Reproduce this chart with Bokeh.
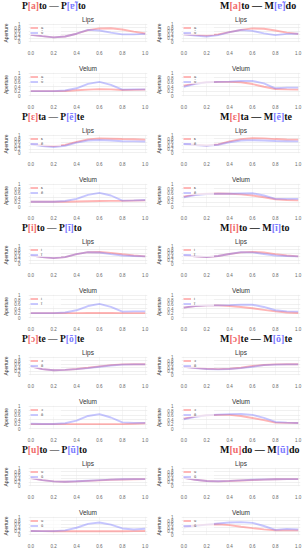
from bokeh.plotting import figure
from bokeh.layouts import column, row
from bokeh.models import Div, FixedTicker, NumeralTickFormatter, Range1d, Legend, LegendItem
from bokeh.embed import file_html
from bokeh.resources import INLINE

# normalised time
X = [0.0, 0.1, 0.2, 0.3, 0.4, 0.5, 0.6, 0.7, 0.8, 0.9, 1.0]

# symbols
ORAL = ["a", "ɛ", "i", "ɔ", "u"]
NASAL = ["ɐ̃", "ẽ", "ĩ", "õ", "ũ"]
LEFT_WORDS = [("P", "to", "P", "to"), ("P", "ta", "P", "te"), ("P", "to", "P", "to"),
              ("P", "te", "P", "te"), ("P", "to", "P", "to")]
RIGHT_WORDS = [("M", "to", "M", "do"), ("M", "ta", "M", "te"), ("M", "to", "M", "to"),
               ("M", "te", "M", "te"), ("M", "do", "M", "do")]

# ---- left column (P words) ----
P_A_LIPS_ORAL = [0.40, 0.32, 0.25, 0.30, 0.46, 0.66, 0.76, 0.77, 0.70, 0.58, 0.47]
P_A_LIPS_NASAL = [0.40, 0.32, 0.25, 0.30, 0.46, 0.68, 0.64, 0.52, 0.42, 0.42, 0.45]
P_A_VEL_ORAL = [0.20, 0.20, 0.20, 0.21, 0.24, 0.27, 0.29, 0.28, 0.25, 0.26, 0.27]
P_A_VEL_NASAL = [0.20, 0.20, 0.20, 0.23, 0.33, 0.53, 0.62, 0.48, 0.27, 0.28, 0.28]

P_E_LIPS_ORAL = [0.50, 0.43, 0.38, 0.45, 0.62, 0.76, 0.82, 0.80, 0.78, 0.77, 0.75]
P_E_LIPS_NASAL = [0.48, 0.38, 0.32, 0.40, 0.58, 0.70, 0.73, 0.70, 0.66, 0.65, 0.64]
P_E_VEL_ORAL = [0.22, 0.22, 0.22, 0.22, 0.23, 0.24, 0.25, 0.26, 0.26, 0.27, 0.28]
P_E_VEL_NASAL = [0.22, 0.22, 0.22, 0.25, 0.35, 0.53, 0.62, 0.50, 0.27, 0.28, 0.30]

P_I_LIPS_ORAL = [0.48, 0.38, 0.32, 0.38, 0.55, 0.66, 0.67, 0.62, 0.54, 0.47, 0.42]
P_I_LIPS_NASAL = [0.48, 0.38, 0.32, 0.38, 0.55, 0.66, 0.64, 0.55, 0.47, 0.44, 0.42]
P_I_VEL_ORAL = [0.20, 0.20, 0.20, 0.20, 0.20, 0.21, 0.21, 0.21, 0.20, 0.20, 0.20]
P_I_VEL_NASAL = [0.20, 0.20, 0.20, 0.23, 0.33, 0.52, 0.62, 0.48, 0.27, 0.28, 0.28]

P_O_LIPS_ORAL = [0.48, 0.32, 0.26, 0.28, 0.33, 0.40, 0.48, 0.55, 0.59, 0.60, 0.60]
P_O_LIPS_NASAL = [0.48, 0.32, 0.26, 0.28, 0.32, 0.38, 0.46, 0.53, 0.58, 0.59, 0.59]
P_O_VEL_ORAL = [0.20, 0.20, 0.20, 0.20, 0.20, 0.20, 0.20, 0.20, 0.20, 0.22, 0.24]
P_O_VEL_NASAL = [0.22, 0.21, 0.21, 0.24, 0.36, 0.57, 0.65, 0.50, 0.28, 0.26, 0.26]

P_U_LIPS_ORAL = [0.44, 0.32, 0.25, 0.23, 0.25, 0.28, 0.31, 0.34, 0.36, 0.37, 0.38]
P_U_LIPS_NASAL = [0.44, 0.32, 0.25, 0.23, 0.26, 0.29, 0.32, 0.35, 0.37, 0.38, 0.38]
P_U_VEL_ORAL = [0.22, 0.21, 0.20, 0.20, 0.20, 0.20, 0.20, 0.20, 0.20, 0.21, 0.22]
P_U_VEL_NASAL = [0.22, 0.21, 0.21, 0.25, 0.40, 0.62, 0.70, 0.58, 0.36, 0.30, 0.34]

# ---- right column (M words) ----
M_A_LIPS_ORAL = [0.43, 0.40, 0.36, 0.42, 0.55, 0.68, 0.76, 0.74, 0.64, 0.52, 0.45]
M_A_LIPS_NASAL = [0.43, 0.35, 0.30, 0.38, 0.55, 0.67, 0.62, 0.48, 0.38, 0.45, 0.46]
M_A_VEL_ORAL = [0.45, 0.55, 0.60, 0.62, 0.62, 0.60, 0.52, 0.40, 0.30, 0.28, 0.27]
M_A_VEL_NASAL = [0.40, 0.53, 0.60, 0.62, 0.63, 0.66, 0.66, 0.55, 0.33, 0.36, 0.36]

M_E_LIPS_ORAL = [0.50, 0.46, 0.42, 0.48, 0.65, 0.78, 0.83, 0.82, 0.78, 0.76, 0.75]
M_E_LIPS_NASAL = [0.50, 0.44, 0.40, 0.46, 0.60, 0.70, 0.72, 0.70, 0.67, 0.66, 0.65]
M_E_VEL_ORAL = [0.45, 0.55, 0.58, 0.59, 0.58, 0.55, 0.50, 0.42, 0.33, 0.30, 0.28]
M_E_VEL_NASAL = [0.42, 0.52, 0.57, 0.58, 0.58, 0.59, 0.60, 0.50, 0.35, 0.35, 0.35]

M_I_LIPS_ORAL = [0.48, 0.43, 0.38, 0.44, 0.56, 0.65, 0.68, 0.64, 0.55, 0.47, 0.42]
M_I_LIPS_NASAL = [0.48, 0.43, 0.38, 0.44, 0.56, 0.66, 0.65, 0.56, 0.47, 0.44, 0.42]
M_I_VEL_ORAL = [0.45, 0.52, 0.55, 0.55, 0.52, 0.48, 0.42, 0.35, 0.28, 0.23, 0.21]
M_I_VEL_NASAL = [0.45, 0.52, 0.55, 0.55, 0.56, 0.58, 0.58, 0.48, 0.33, 0.28, 0.27]

M_O_LIPS_ORAL = [0.45, 0.40, 0.34, 0.32, 0.34, 0.40, 0.50, 0.56, 0.59, 0.60, 0.60]
M_O_LIPS_NASAL = [0.45, 0.38, 0.33, 0.31, 0.33, 0.38, 0.46, 0.55, 0.58, 0.59, 0.59]
M_O_VEL_ORAL = [0.45, 0.55, 0.60, 0.62, 0.62, 0.57, 0.48, 0.38, 0.27, 0.26, 0.25]
M_O_VEL_NASAL = [0.42, 0.53, 0.60, 0.63, 0.65, 0.66, 0.62, 0.48, 0.30, 0.27, 0.25]

M_U_LIPS_ORAL = [0.45, 0.34, 0.27, 0.25, 0.27, 0.30, 0.33, 0.35, 0.37, 0.38, 0.38]
M_U_LIPS_NASAL = [0.45, 0.34, 0.27, 0.26, 0.28, 0.31, 0.34, 0.36, 0.37, 0.38, 0.38]
M_U_VEL_ORAL = [0.45, 0.53, 0.58, 0.60, 0.55, 0.46, 0.38, 0.31, 0.26, 0.25, 0.25]
M_U_VEL_NASAL = [0.42, 0.50, 0.58, 0.64, 0.70, 0.72, 0.68, 0.50, 0.28, 0.33, 0.30]

LEFT_DATA = [
    (P_A_LIPS_ORAL, P_A_LIPS_NASAL, P_A_VEL_ORAL, P_A_VEL_NASAL),
    (P_E_LIPS_ORAL, P_E_LIPS_NASAL, P_E_VEL_ORAL, P_E_VEL_NASAL),
    (P_I_LIPS_ORAL, P_I_LIPS_NASAL, P_I_VEL_ORAL, P_I_VEL_NASAL),
    (P_O_LIPS_ORAL, P_O_LIPS_NASAL, P_O_VEL_ORAL, P_O_VEL_NASAL),
    (P_U_LIPS_ORAL, P_U_LIPS_NASAL, P_U_VEL_ORAL, P_U_VEL_NASAL),
]
RIGHT_DATA = [
    (M_A_LIPS_ORAL, M_A_LIPS_NASAL, M_A_VEL_ORAL, M_A_VEL_NASAL),
    (M_E_LIPS_ORAL, M_E_LIPS_NASAL, M_E_VEL_ORAL, M_E_VEL_NASAL),
    (M_I_LIPS_ORAL, M_I_LIPS_NASAL, M_I_VEL_ORAL, M_I_VEL_NASAL),
    (M_O_LIPS_ORAL, M_O_LIPS_NASAL, M_O_VEL_ORAL, M_O_VEL_NASAL),
    (M_U_LIPS_ORAL, M_U_LIPS_NASAL, M_U_VEL_ORAL, M_U_VEL_NASAL),
]

RED = "#ff5a5a"
BLUE = "#7070ff"
FONT = "Liberation Sans"


def panel(name, oral, nasal, osym, nsym, width, left, right, height, top, bottom):
    p = figure(width=width, height=height, x_range=Range1d(-0.02, 1.02), y_range=Range1d(-0.04, 1.04),
               output_backend="svg", toolbar_location=None, title=name,
               min_border_left=left, min_border_right=right, min_border_top=top, min_border_bottom=bottom,
               margin=0)
    p.outline_line_color = None
    p.background_fill_color = "white"
    p.title.align = "center"
    p.title.text_font = FONT
    p.title.text_font_size = "6.5px"
    p.title.text_font_style = "normal"
    p.title.text_color = "#333333"
    p.title.standoff = 1
    p.title.offset = 0
    for ax in (p.xaxis[0], p.yaxis[0]):
        ax.axis_line_color = None
        ax.major_tick_line_color = None
        ax.minor_tick_line_color = None
        ax.major_label_text_font = FONT
        ax.major_label_text_font_size = "4.5px"
        ax.major_label_text_color = "#666666"
        ax.major_label_standoff = 2
    p.xaxis.ticker = FixedTicker(ticks=[0, 0.2, 0.4, 0.6, 0.8, 1.0])
    p.xaxis.formatter = NumeralTickFormatter(format="0.0")
    p.yaxis.ticker = FixedTicker(ticks=[0, 0.2, 0.4, 0.6, 0.8, 1.0])
    p.yaxis.formatter = NumeralTickFormatter(format="0.[0]")
    p.yaxis.axis_label = "Aperture"
    p.yaxis.axis_label_text_font = FONT
    p.yaxis.axis_label_text_font_size = "5px"
    p.yaxis.axis_label_text_font_style = "normal"
    p.yaxis.axis_label_text_color = "#333333"
    p.yaxis.axis_label_standoff = 2
    p.xgrid.grid_line_color = "#eeeeee"
    p.ygrid.grid_line_color = "#e6e6e6"
    p.xgrid.grid_line_width = 0.6
    p.ygrid.grid_line_width = 0.6
    r1 = p.line(X, oral, line_color=RED, line_width=1.9, line_alpha=0.45)
    r2 = p.line(X, nasal, line_color=BLUE, line_width=1.9, line_alpha=0.4)
    lg = Legend(items=[LegendItem(label=osym, renderers=[r1]), LegendItem(label=nsym, renderers=[r2])],
                location="top_left", label_text_font_size="4px", label_text_font=FONT,
                label_text_color="#444444", glyph_width=8, glyph_height=3, label_height=3,
                label_standoff=3, spacing=0, padding=1, margin=2, border_line_color=None,
                background_fill_alpha=0.7)
    p.add_layout(lg)
    return p


def title_div(c1, v1, s1, c2, v2, s2, width, pad, size):
    html = ('%s<span style="color:#f06a6a">[%s]</span>%s \u2014 %s<span style="color:#7b7bff">[%s]</span>%s'
            % (c1, v1, s1, c2, v2, s2))
    return Div(text=html, width=width, height=12, margin=0,
               styles={"font-family": "'Liberation Serif', 'DejaVu Serif', serif", "font-weight": "bold",
                       "font-size": size, "line-height": "12px", "padding-left": "%dpx" % pad,
                       "white-space": "nowrap", "color": "#111111"})


def build_column(words, data, width, left, right, pad, size):
    items = []
    for i in range(5):
        c1, s1, c2, s2 = words[i]
        lo, ln, vo, vn = data[i]
        items.append(title_div(c1, ORAL[i], s1, c2, NASAL[i], s2, width, pad, size))
        items.append(panel("Lips", lo, ln, ORAL[i], NASAL[i], width, left, right, 45, 11, 9))
        last = i == 4
        items.append(panel("Velum", vo, vn, ORAL[i], NASAL[i], width, left, right,
                           49 if last else 54, 15, 9 if last else 14))
    return column(*items, margin=0, spacing=0)


left_col = build_column(LEFT_WORDS, LEFT_DATA, 153, 20, 6, 22, "9.5px")
right_col = build_column(RIGHT_WORDS, RIGHT_DATA, 152, 20, 5, 67, "10px")
p = row(left_col, right_col, margin=0, spacing=0)

open("out.html", "w").write(file_html(p, INLINE))
